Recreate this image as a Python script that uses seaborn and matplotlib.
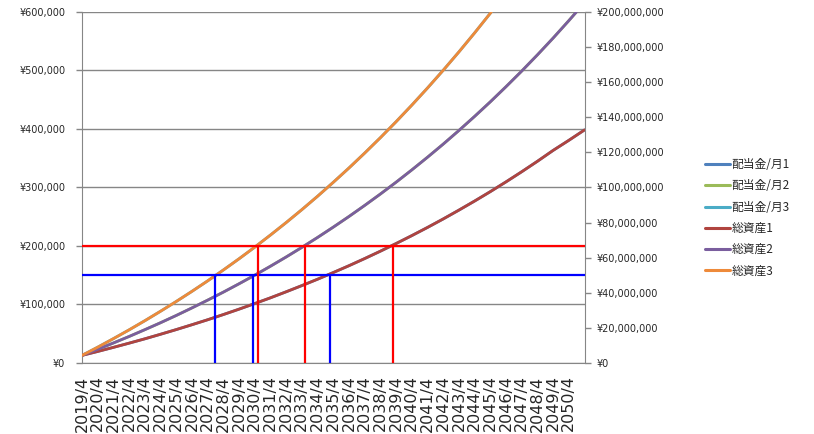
import matplotlib
matplotlib.use("Agg")
import matplotlib.pyplot as plt
from matplotlib.lines import Line2D
import seaborn as sns
import pandas as pd

# ---------------- data ----------------
year_labels = [f"{y}/4" for y in range(2019, 2051)]
years_idx = list(range(33))  # yearly points, 2019/4 .. 2051/4

# monthly dividend (yen, thousands) - left axis
div1 = [13.0, 19.7, 26.7, 33.9, 41.3, 49.1, 57.1, 65.4, 73.9, 82.8, 92.0, 101.6, 111.4,
        121.7, 132.3, 143.2, 154.6, 166.3, 178.5, 191.1, 204.2, 217.7, 231.7, 246.2,
        261.3, 276.8, 292.9, 309.6, 326.9, 344.8, 363.4, 380.6, 398.4]
div2 = [13.0, 23.4, 34.2, 45.3, 56.9, 68.8, 81.2, 94.1, 107.4, 121.1, 135.4, 150.1, 165.4,
        181.2, 197.6, 214.6, 232.2, 250.4, 269.3, 288.8, 309.0, 330.0, 351.7, 374.1,
        397.4, 421.5, 446.4, 472.3, 499.0, 526.7, 555.4, 585.2, 615.9]
div3 = [13.0, 27.0, 41.6, 56.6, 72.2, 88.4, 105.1, 122.4, 140.3, 158.9, 178.1, 198.0, 218.7,
        240.0, 262.1, 285.0, 308.8, 333.3, 358.8, 385.1, 412.4, 440.7, 470.0, 500.3,
        531.7, 564.2, 597.8, 632.7, 668.8, 706.2, 744.9, 785.0, 826.5]

# total assets (yen, millions) - right axis
asset1 = [4.33, 6.57, 8.90, 11.30, 13.77, 16.37, 19.03, 21.80, 24.63, 27.60, 30.67, 33.87,
          37.13, 40.57, 44.10, 47.73, 51.53, 55.43, 59.50, 63.70, 68.07, 72.57, 77.23,
          82.07, 87.10, 92.27, 97.63, 103.20, 108.97, 114.93, 121.13, 126.87, 132.80]
asset2 = [4.33, 7.80, 11.40, 15.10, 18.97, 22.93, 27.07, 31.37, 35.80, 40.37, 45.13, 50.03,
          55.13, 60.40, 65.87, 71.53, 77.40, 83.47, 89.77, 96.27, 103.00, 110.00, 117.23,
          124.70, 132.47, 140.50, 148.80, 157.43, 166.33, 175.57, 185.13, 195.07, 205.30]
asset3 = [4.33, 9.00, 13.87, 18.87, 24.07, 29.47, 35.03, 40.80, 46.77, 52.97, 59.37, 66.00,
          72.90, 80.00, 87.37, 95.00, 102.93, 111.10, 119.60, 128.37, 137.47, 146.90, 156.67,
          166.77, 177.23, 188.07, 199.27, 210.90, 222.93, 235.40, 248.30, 261.67, 275.50]

series_names = ["配当金/月1", "配当金/月2", "配当金/月3", "総資産1", "総資産2", "総資産3"]
series_colors = ["#4F81BD", "#9BBB59", "#4BACC6", "#B0443F", "#7A5E9E", "#EE8A3A"]

# target lines (left-axis yen) and crossing years
target_blue = 150000
target_red = 200000
cross_blue = [8.46, 10.88, 15.78]
cross_red = [11.20, 14.19, 19.78]

# ---------------- plot ----------------
sns.set_style("white")
plt.rcParams["font.family"] = ["DejaVu Sans", "Noto Sans CJK JP"]

fig = plt.figure(figsize=(8.14, 4.34), dpi=100)
ax = fig.add_axes([0.1007, 0.1636, 0.6174, 0.8088])
ax2 = ax.twinx()

grid_c = "#868686"

df_div = pd.DataFrame({"t": years_idx, "d1": [v * 1000 for v in div1],
                       "d2": [v * 1000 for v in div2], "d3": [v * 1000 for v in div3]})
df_as = pd.DataFrame({"t": years_idx, "a1": [v * 1e6 for v in asset1],
                      "a2": [v * 1e6 for v in asset2], "a3": [v * 1e6 for v in asset3]})

for col, c in zip(["d1", "d2", "d3"], series_colors[:3]):
    sns.lineplot(data=df_div, x="t", y=col, ax=ax, color=c, lw=2.0, legend=False)
for col, c in zip(["a1", "a2", "a3"], series_colors[3:]):
    sns.lineplot(data=df_as, x="t", y=col, ax=ax2, color=c, lw=2.0, legend=False)

# target lines drawn on top (ax2), in left-axis data units
for y, xs, c in [(target_blue, cross_blue, "#0000FF"), (target_red, cross_red, "#FF0000")]:
    ax2.plot([0, 32], [y, y], color=c, lw=1.6, transform=ax.transData, zorder=5)
    for x in xs:
        ax2.plot([x, x], [0, y], color=c, lw=1.6, transform=ax.transData, zorder=5)

ax.set_xlim(0, 32)
ax.set_ylim(0, 600000)
ax2.set_ylim(0, 200000000)

ax.set_yticks(range(0, 600001, 100000))
ax.set_yticklabels([f"¥{v:,}" for v in range(0, 600001, 100000)], fontsize=7)
ax2.set_yticks(range(0, 200000001, 20000000))
ax2.set_yticklabels([f"¥{v:,}" for v in range(0, 200000001, 20000000)], fontsize=7)

ax.set_xticks(range(33))
ax.set_xticklabels(year_labels + [""], rotation=90, fontsize=11.5)

ax.set_xlabel("")
ax.set_ylabel("")
ax2.set_ylabel("")

ax.yaxis.grid(True, color=grid_c, lw=1.0)
ax.xaxis.grid(False)
ax.set_axisbelow(True)

for a in (ax, ax2):
    for s in a.spines.values():
        s.set_visible(False)
ax.spines["left"].set_visible(True)
ax.spines["left"].set_color(grid_c)
ax.spines["bottom"].set_visible(True)
ax.spines["bottom"].set_color(grid_c)
ax2.spines["right"].set_visible(True)
ax2.spines["right"].set_color(grid_c)

ax.tick_params(axis="y", which="both", direction="out", length=4, color=grid_c, width=1, pad=8)
ax.tick_params(axis="x", direction="out", length=4, color=grid_c, width=1, pad=5)
ax2.tick_params(axis="y", direction="out", length=4, color=grid_c, width=1, pad=5)

handles = [Line2D([0], [0], color=c, lw=2.2) for c in series_colors]
leg = fig.legend(handles, series_names, loc="upper left", bbox_to_anchor=(0.853, 0.66),
                 frameon=False, handlelength=2.1, handletextpad=0.15, labelspacing=0.7,
                 prop={"family": ["Noto Sans CJK JP", "DejaVu Sans"], "size": 8.5})

fig.savefig("out.png", dpi=100)
